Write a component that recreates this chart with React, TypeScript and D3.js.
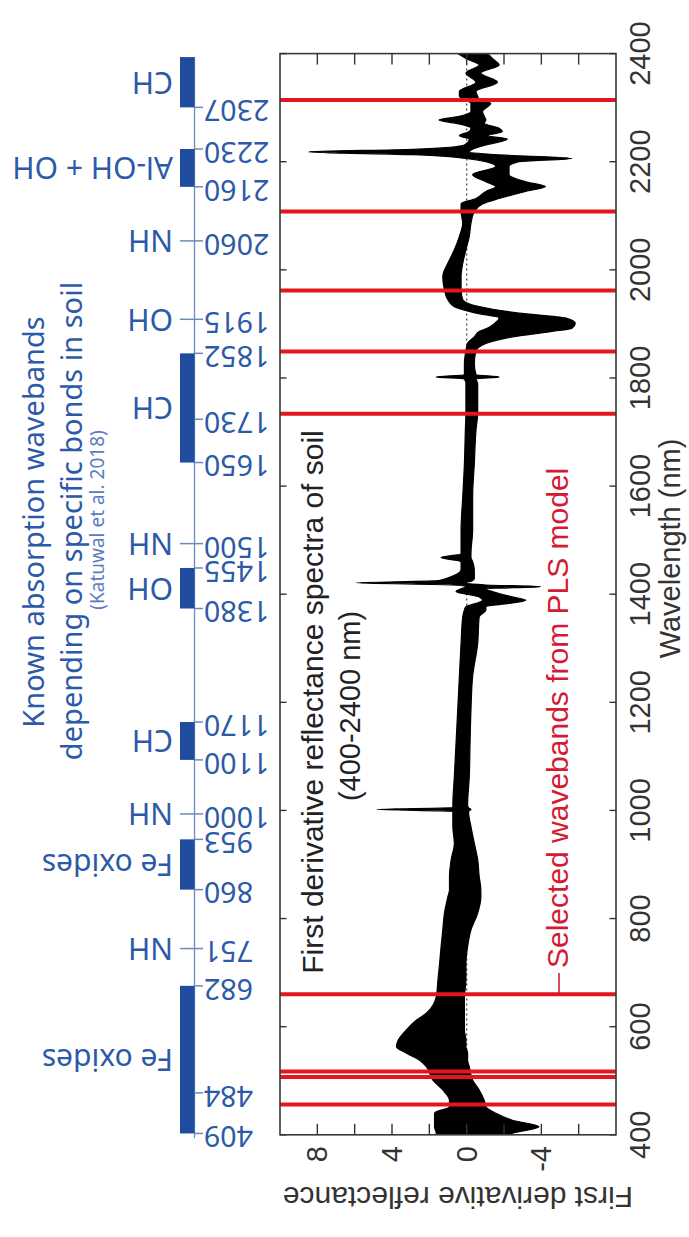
import React from "react";
import * as d3 from "d3";

const W = 689;
const H = 1237;

// Envelope of the first-derivative reflectance spectra (upper / lower bound across all soil samples)
const wavelengthNodes = [
  400, 403, 415, 427, 440, 452, 464, 483, 501, 526, 538, 551, 563, 575, 594, 612, 625, 655, 686, 717,
  748, 779, 810, 840, 853, 878, 909, 939, 970, 998, 1002, 1005, 1010, 1063, 1124, 1186, 1248, 1309, 1358, 1371,
  1377, 1383, 1389, 1395, 1405, 1410, 1414, 1417, 1421, 1425, 1429, 1445, 1460, 1468, 1475, 1519, 1580, 1642, 1704, 1735,
  1790, 1798, 1802, 1806, 1827, 1850, 1864, 1876, 1886, 1892, 1901, 1911, 1920, 1932, 1945, 1963, 1988, 2012, 2037, 2062,
  2086, 2108, 2122, 2132, 2145, 2154, 2163, 2176, 2191, 2200, 2206, 2213, 2218, 2223, 2231, 2242, 2248, 2256, 2262, 2271,
  2277, 2284, 2293, 2308, 2314, 2321, 2330, 2347, 2364, 2379, 2391, 2400,
];
const derivMax = [
  1.63, 1.63, 1.72, 1.72, 1.72, 0.92, 0.92, 1.28, 1.81, 2.16, 2.52, 3.23, 3.76, 3.67, 3.23, 2.7, 2.16, 1.63, 1.54, 1.45,
  1.37, 1.28, 1.19, 1.01, 0.92, 0.92, 0.83, 0.66, 0.74, 0.74, 4.82, 0.74, 0.74, 0.66, 0.57, 0.48, 0.39, 0.3, 0.21, 0.12,
  0.04, -0.5, -0.85, -0.67, 0.57, 0.3, 0.04, 0.74, 5.92, 1.5, 1.1, 0.3, 0.3, 1.37, 0.3, 0.3, 0.21, 0.12, 0.07, 0.04,
  0.04, 0.12, 1.63, 0.12, 0.12, 0.04, -0.05, -0.41, -0.67, -1.1, -1.5, -1.74, -0.5, 0.66, 1.01, 1.19, 1.28, 1.01, 0.66, 0.39,
  0.21, 0.3, 0.3, -0.5, -1.03, -1.56, -1.03, -0.32, -1.56, -1.03, 0.04, 2.87, 8.46, 2.87, 0.12, -0.14, 0.39, -0.14, -0.23, 0.57,
  1.49, 0.39, -0.23, -0.23, 0.04, 0.39, 0.39, -0.5, 0.04, -0.67, 0.04, 0.48,
];
const derivMin = [
  -2.2, -2.45, -3.87, -2.45, -1.56, -1.03, -0.94, -0.67, -0.32, -0.14, -0.05, -0.05, 0.04, 0.04, 0.12, 0.12, 0.12, 0.12, 0.04, 0.04,
  -0.05, -0.23, -0.59, -0.76, -0.76, -0.67, -0.59, -0.41, -0.23, -0.1, -0.23, -0.1, -0.05, -0.14, -0.18, -0.23, -0.32, -0.59, -0.67, -1.03,
  -1.03, -2.27, -3.16, -2.45, -1.38, -1.03, -3.95, -1.03, 0.04, -0.3, -0.41, -0.41, -0.32, -0.23, -0.23, -0.32, -0.32, -0.41, -0.5, -0.59,
  -0.59, -0.5, -1.74, -0.5, -0.41, -0.5, -1.03, -2.45, -4.57, -5.64, -5.82, -5.28, -2.8, -0.67, 0.21, 0.3, 0.3, 0.21, 0.04, -0.14,
  -0.23, -0.41, -0.85, -1.74, -3.16, -4.22, -3.16, -2.27, -2.27, -2.8, -5.64, -1.56, -0.14, -0.32, -1.03, -2.18, -1.12, -1.91, -1.74, -0.94,
  -1.03, -0.94, -0.85, -1.29, -0.67, -0.59, -0.5, -1.65, -0.76, -1.74, -1.38, -1.12,
];

// Wavebands retained by the PLS model (nm)
const selectedWavebands = [456, 507, 517, 660, 1734, 1849, 1962, 2108, 2314];

// Axis ticks
const wavelengthTicks = [400, 600, 800, 1000, 1200, 1400, 1600, 1800, 2000, 2200, 2400];
const derivTicks = [-6, -4, -2, 0, 2, 4, 6, 8];
const derivTickLabels = [8, 4, 0, -4];

// Known absorption wavebands (Katuwal et al. 2018)
const rangeBonds = ["Fe oxides", "Fe oxides", "CH", "OH", "CH", "Al-OH + OH", "CH"];
const rangeStart = [409, 860, 1100, 1380, 1650, 2160, 2307];
const rangeEnd = [682, 953, 1170, 1455, 1852, 2230, 2400];
const pointBonds = ["NH", "NH", "NH", "OH", "NH"];
const pointWavelengths = [751, 1000, 1500, 1915, 2060];
const bandTickValues = [
  409, 484, 682, 751, 860, 953, 1000, 1100, 1170, 1380, 1455, 1500, 1650, 1730, 1852, 1915, 2060, 2160, 2230, 2307,
];

const BLUE_TEXT = "#2c5aa8";
const BLUE_BAR = "#1f4c9e";
const BLUE_LINE = "#6f88c2";
const RED = "#e3161f";
const RED_TEXT = "#d21c34";
const AXIS = "#333";
const SANS = "'Liberation Sans', Arial, sans-serif";
const HUMANIST = "'Noto Sans', 'Open Sans', sans-serif";

const rot = (x: number, y: number, a: number) => `translate(${x},${y}) rotate(${a})`;

export default function App() {
  const left = 280;
  const right = 616;
  const top = 53.6;
  const bottom = 1134.8;

  const y = d3.scaleLinear().domain([400, 2400]).range([bottom, top]);
  const x = d3.scaleLinear().domain([-8, 10]).range([right, left]);
  const yBand = d3.scaleLinear().domain([400, 2400]).range([bottom + 3.5, top + 3.5]);

  const idx = d3.range(wavelengthNodes.length);
  const area = d3
    .area<number>()
    .y((i) => y(wavelengthNodes[i]))
    .x0((i) => x(derivMin[i]))
    .x1((i) => x(derivMax[i]))
    .curve(d3.curveMonotoneY);
  const upper = d3
    .line<number>()
    .y((i) => y(wavelengthNodes[i]))
    .x((i) => x(derivMax[i]))
    .curve(d3.curveMonotoneY);
  const lower = d3
    .line<number>()
    .y((i) => y(wavelengthNodes[i]))
    .x((i) => x(derivMin[i]))
    .curve(d3.curveMonotoneY);

  const lineX = 194.5;
  const barW = 14.5;

  return (
    <svg
      width={W}
      height={H}
      viewBox={`0 0 ${W} ${H}`}
      style={{ position: "absolute", left: 0, top: 0, background: "#fff" }}
    >
      <rect width={W} height={H} fill="#fff" />

      {/* Known absorption wavebands panel */}
      <g>
        <text
          transform={rot(43.5, 522, -90)}
          textAnchor="middle"
          fontFamily={HUMANIST}
          fontSize={29}
          fill={BLUE_TEXT}
        >
          Known absorption wavebands
        </text>
        <text
          transform={rot(82, 521, -90)}
          textAnchor="middle"
          fontFamily={HUMANIST}
          fontSize={29}
          fill={BLUE_TEXT}
        >
          depending on specific bonds in soil
        </text>
        <text
          transform={rot(103.5, 520, -90)}
          textAnchor="middle"
          fontFamily={HUMANIST}
          fontSize={19}
          fill="#5b7cc0"
        >
          (Katuwal et al. 2018)
        </text>

        <line x1={lineX} x2={lineX} y1={yBand(400)} y2={yBand(2400)} stroke={BLUE_LINE} strokeWidth={1.3} />

        {rangeBonds.map((name, i) => {
          const y0 = yBand(rangeEnd[i]);
          const y1 = yBand(rangeStart[i]);
          return (
            <g key={`r${i}`}>
              <rect x={lineX - barW} y={y0} width={barW} height={y1 - y0} fill={BLUE_BAR} />
              <text
                transform={rot(173, (y0 + y1) / 2, 180)}
                dy="0.35em"
                textAnchor="start"
                fontFamily={HUMANIST}
                fontSize={30}
                fill={BLUE_TEXT}
              >
                {name}
              </text>
            </g>
          );
        })}

        {pointBonds.map((name, i) => {
          const yy = yBand(pointWavelengths[i]);
          return (
            <g key={`p${i}`}>
              <line x1={lineX - 14.5} x2={lineX} y1={yy} y2={yy} stroke={BLUE_LINE} strokeWidth={1.5} />
              <text
                transform={rot(173, yy, 180)}
                dy="0.35em"
                textAnchor="start"
                fontFamily={HUMANIST}
                fontSize={30}
                fill={BLUE_TEXT}
              >
                {name}
              </text>
            </g>
          );
        })}

        {bandTickValues.map((v) => {
          const yy = yBand(v);
          return (
            <g key={`t${v}`}>
              <line x1={lineX} x2={lineX + 8.5} y1={yy} y2={yy} stroke={BLUE_LINE} strokeWidth={1.5} />
              <text
                transform={rot(204, yy, 180)}
                dy="0.25em"
                textAnchor="end"
                fontFamily={HUMANIST}
                fontSize={28.5}
                fill={BLUE_TEXT}
              >
                {v}
              </text>
            </g>
          );
        })}
      </g>

      {/* Spectra plot */}
      <g>
        <line
          x1={x(0)}
          x2={x(0)}
          y1={top}
          y2={bottom}
          stroke="#555"
          strokeWidth={1.4}
          strokeDasharray="2,3"
        />
        <path d={area(idx) ?? ""} fill="#000" />
        <path d={upper(idx) ?? ""} fill="none" stroke="#000" strokeWidth={1.2} />
        <path d={lower(idx) ?? ""} fill="none" stroke="#000" strokeWidth={1.2} />

        {selectedWavebands.map((wl) => (
          <line key={`s${wl}`} x1={left} x2={right} y1={y(wl)} y2={y(wl)} stroke={RED} strokeWidth={4} />
        ))}

        <rect
          x={left}
          y={top}
          width={right - left}
          height={bottom - top}
          fill="none"
          stroke="#3a3a3a"
          strokeWidth={1.6}
        />

        {/* wavelength ticks, inward on both sides */}
        {wavelengthTicks.map((t) => (
          <g key={`w${t}`}>
            <line x1={left} x2={left + 6.5} y1={y(t)} y2={y(t)} stroke={AXIS} strokeWidth={1.4} />
            <line x1={right} x2={right - 6.5} y1={y(t)} y2={y(t)} stroke={AXIS} strokeWidth={1.4} />
            <text
              transform={rot(650, y(t), -90)}
              textAnchor="middle"
              fontFamily={SANS}
              fontSize={29}
              fill={AXIS}
            >
              {t}
            </text>
          </g>
        ))}

        {/* derivative ticks, inward on both ends */}
        {derivTicks.map((t) => (
          <g key={`d${t}`}>
            <line x1={x(t)} x2={x(t)} y1={top} y2={top + 11} stroke={AXIS} strokeWidth={1.4} />
            <line x1={x(t)} x2={x(t)} y1={bottom} y2={bottom - 11} stroke={AXIS} strokeWidth={1.4} />
          </g>
        ))}
        {derivTickLabels.map((t) => (
          <text
            key={`dl${t}`}
            transform={rot(x(t), 1146, -90)}
            dy="0.35em"
            textAnchor="end"
            fontFamily={SANS}
            fontSize={29}
            fill={AXIS}
          >
            {t}
          </text>
        ))}

        <text
          transform={rot(680, 548.5, -90)}
          textAnchor="middle"
          fontFamily={SANS}
          fontSize={29}
          fill={AXIS}
        >
          Wavelength (nm)
        </text>
        <text
          transform={rot(458, 1187, 180)}
          textAnchor="middle"
          fontFamily={SANS}
          fontSize={30}
          fill={AXIS}
        >
          First derivative reflectance
        </text>

        <text
          transform={rot(323, 702, -90)}
          textAnchor="middle"
          fontFamily={SANS}
          fontSize={30}
          fill="#222"
        >
          First derivative reflectance spectra of soil
        </text>
        <text
          transform={rot(360, 706, -90)}
          textAnchor="middle"
          fontFamily={SANS}
          fontSize={29}
          fill="#222"
        >
          (400-2400 nm)
        </text>

        <line x1={559} x2={559} y1={973} y2={y(660)} stroke={RED_TEXT} strokeWidth={1.6} />
        <text
          transform={rot(568, 968, -90)}
          textAnchor="start"
          fontFamily={SANS}
          fontSize={30}
          fill={RED_TEXT}
        >
          Selected wavebands from PLS model
        </text>
      </g>
    </svg>
  );
}
